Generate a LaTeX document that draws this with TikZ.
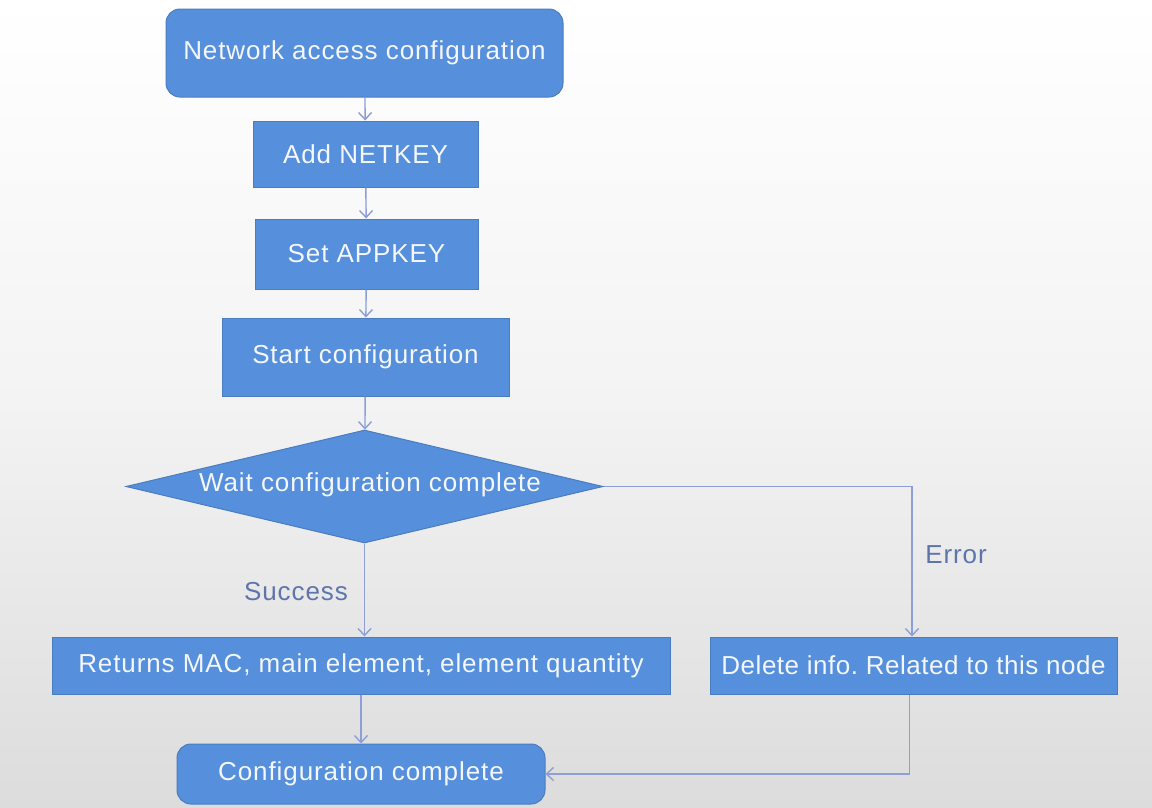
\documentclass[tikz,border=0pt]{standalone}
\usepackage{fontspec}
\setmainfont{Liberation Sans}[LetterSpace=3.5]
\usetikzlibrary{shapes.geometric,arrows.meta,calc}
\definecolor{boxfill}{HTML}{568FDB}
\definecolor{boxline}{HTML}{4A7DC0}
\definecolor{boxtext}{HTML}{F4F7FC}
\definecolor{flow}{HTML}{8C9FD8}
\definecolor{lbl}{HTML}{5E75AC}
\definecolor{bgtop}{HTML}{FFFFFF}
\definecolor{bgmid}{HTML}{F3F3F3}
\definecolor{bgbot}{HTML}{DCDCDC}
\frenchspacing
\begin{document}
\begin{tikzpicture}[x=1pt,y=-1pt,
  every node/.style={font=\fontsize{26}{31}\selectfont},
  stepbox/.style={rectangle,draw=boxline,line width=1pt,fill=boxfill,
    text=boxtext,inner sep=0pt},
  roundbox/.style={stepbox,rounded corners=14pt},
  decision/.style={diamond,draw=boxline,line width=1pt,fill=boxfill,
    inner sep=0pt},
  flowline/.style={draw=flow,line width=1.4pt,
    -{Straight Barb[length=7pt,width=13pt,line width=1.4pt]}},
  branch/.style={text=lbl}
]
% page background with a soft vertical fade
\shade[top color=bgtop,bottom color=bgbot,middle color=bgmid]
  (0,0) rectangle (1152,807);
\useasboundingbox (0,0) rectangle (1152,807);

% process steps
\node[roundbox,minimum width=397pt,minimum height=88pt] (net) at (364.5,53)
  {Network access configuration};
\node[stepbox,minimum width=225pt,minimum height=66pt] (addnk) at (365.5,154)
  {Add NETKEY};
\node[stepbox,minimum width=223pt,minimum height=70pt] (setak) at (366.5,254)
  {Set APPKEY};
\node[stepbox,minimum width=287pt,minimum height=78pt] (start) at (365.5,357)
  {Start configuration};
\node[decision,minimum width=477pt,minimum height=113pt,aspect=4.2] (wait)
  at (364.5,486.5) {};
\node[text=boxtext] (waittxt) at (370,485) {Wait configuration complete};
\node[stepbox,minimum width=618pt,minimum height=57pt] (ret) at (361,665.5)
  {Returns MAC, main element, element quantity};
\node[stepbox,minimum width=407pt,minimum height=57pt] (del) at (913.5,665.5)
  {\addfontfeature{LetterSpace=2}Delete info. Related to this node};
\node[roundbox,minimum width=368pt,minimum height=60pt] (done) at (361,774)
  {Configuration complete};

% connectors
\draw[flowline] (net) -- (addnk);
\draw[flowline] (addnk) -- (setak);
\draw[flowline] (setak) -- (start);
\draw[flowline] (start) -- (wait);
\draw[flowline] (wait.south) -- (ret.north -| wait.south);
\draw[flowline] (wait.east) -| ($(del.north)+(-1.5,0)$);
\draw[flowline] (ret.south -| done.north) -- (done.north);
\draw[flowline] ($(del.south)+(-4,0)$) |- (done.east);

% branch labels
\node[branch] (succ) at (296,592) {Success};
\node[branch] (err) at (956,555) {Error};
\end{tikzpicture}
\end{document}
